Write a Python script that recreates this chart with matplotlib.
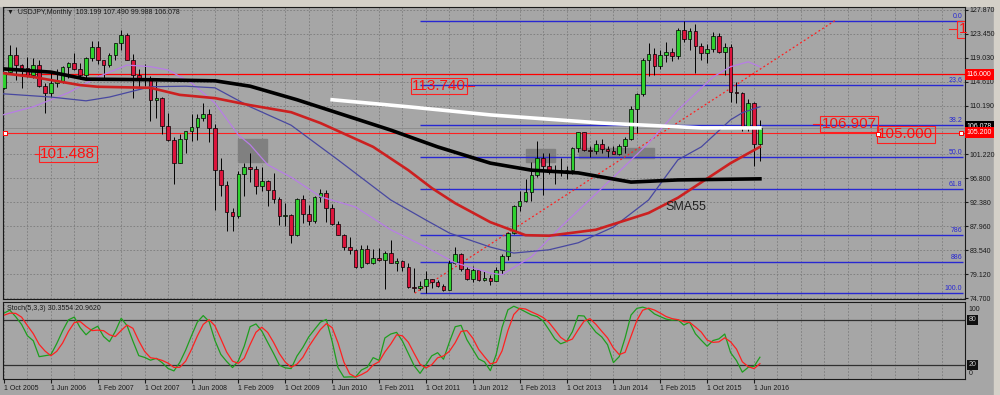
import matplotlib.pyplot as plt
import matplotlib.transforms as mtrans
import numpy as np
import pandas as pd
from matplotlib.patches import Rectangle

plt.rcParams['font.family'] = ['Liberation Sans', 'DejaVu Sans']

# USDJPY monthly bars, Feb 2005 .. Jul 2016 (first 8 bars only feed the stochastic)
opens = [
    103.6, 104.6, 107.2, 104.8, 108.6, 110.9, 112.5, 111.0, 113.4, 116.4, 119.6,                 # 2005
    117.8, 117.2, 115.8, 117.8, 113.8, 112.5, 114.4, 114.7, 117.4, 118.1, 117.0, 115.8,          # 2006
    119.0, 121.0, 118.6, 117.8, 119.5, 121.7, 123.2, 118.7, 115.8, 114.9, 115.4, 111.2,          # 2007
    111.7, 106.4, 103.9, 99.7, 104.0, 105.5, 106.2, 108.0, 108.7, 106.0, 98.4, 95.5,             # 2008
    90.6, 89.9, 97.6, 98.9, 98.5, 95.3, 96.3, 94.7, 93.0, 89.9, 90.1, 86.3,                      # 2009
    93.0, 90.3, 88.9, 93.4, 94.0, 91.3, 88.4, 86.4, 84.2, 83.5, 80.4, 83.7,                      # 2010
    81.1, 82.0, 81.8, 83.1, 81.2, 81.5, 80.5, 76.7, 76.6, 77.0, 78.2, 77.6,                      # 2011
    76.9, 76.2, 81.1, 82.9, 80.0, 78.3, 79.8, 78.1, 78.4, 77.9, 79.8, 82.5,                      # 2012
    86.7, 91.7, 92.6, 94.2, 97.4, 100.5, 99.1, 97.9, 98.2, 98.3, 98.4, 102.4,                    # 2013
    105.3, 102.0, 101.8, 103.2, 102.2, 101.8, 101.3, 102.8, 104.1, 109.6, 112.3, 118.6,          # 2014
    119.8, 117.5, 119.6, 120.1, 119.4, 124.1, 122.5, 123.9, 121.2, 119.9, 120.6, 123.1,          # 2015
    120.2, 121.0, 112.7, 112.6, 106.5, 110.7, 103.199,                                            # 2016
]
highs = [
    106.0, 107.5, 108.3, 108.7, 111.2, 113.7, 112.7, 113.5, 116.5, 121.4, 121.0,
    117.9, 119.2, 119.0, 118.7, 114.4, 116.2, 117.0, 117.5, 118.3, 119.9, 118.1, 119.1,
    122.2, 122.2, 118.7, 120.0, 121.8, 124.1, 123.7, 119.8, 117.0, 117.9, 115.6, 114.7,
    111.8, 108.8, 104.4, 105.0, 105.6, 108.6, 108.6, 110.7, 109.6, 106.8, 100.5, 96.3,
    91.3, 98.2, 99.7, 101.4, 99.1, 98.9, 96.5, 97.8, 93.3, 92.3, 90.3, 93.1,
    93.8, 91.8, 93.6, 94.8, 94.7, 92.0, 88.9, 86.6, 85.9, 83.7, 84.4, 84.5,
    83.7, 84.0, 83.3, 85.5, 82.0, 81.7, 81.1, 80.2, 77.9, 79.6, 78.3, 78.1,
    77.3, 81.7, 84.2, 83.0, 80.5, 80.6, 79.9, 79.6, 78.9, 80.4, 82.8, 86.8,
    91.8, 94.5, 96.7, 99.9, 103.7, 101.5, 101.5, 99.2, 100.6, 99.0, 102.6, 105.4,
    105.4, 102.8, 103.8, 104.1, 102.7, 102.8, 103.2, 104.5, 110.1, 112.5, 119.0, 121.8,
    120.8, 120.5, 122.0, 120.8, 124.5, 125.9, 124.6, 125.3, 121.8, 121.5, 123.8, 123.7,
    121.7, 121.5, 114.6, 112.7, 111.5, 110.8, 107.490,
]
lows = [
    103.5, 103.6, 104.2, 104.6, 106.6, 110.0, 108.8, 109.5, 113.2, 116.3, 114.9,
    113.4, 115.5, 115.3, 113.7, 108.9, 111.8, 113.6, 114.4, 115.4, 116.8, 115.1, 114.9,
    118.5, 117.9, 115.2, 117.3, 118.6, 120.5, 118.6, 111.6, 113.6, 113.9, 107.4, 107.9,
    104.9, 103.6, 95.8, 99.6, 101.4, 103.6, 103.8, 107.4, 103.5, 90.9, 93.6, 87.1,
    87.1, 89.5, 93.5, 96.2, 93.9, 94.5, 91.7, 92.3, 88.2, 88.0, 84.8, 86.1,
    88.6, 88.1, 88.5, 92.4, 88.8, 88.2, 86.3, 83.6, 82.9, 80.2, 80.2, 80.9,
    81.0, 81.5, 76.3, 81.1, 79.6, 79.7, 76.5, 75.9, 76.1, 75.6, 76.6, 76.8,
    76.0, 76.1, 80.9, 79.6, 78.0, 77.7, 77.9, 77.9, 77.1, 77.8, 79.1, 81.7,
    86.5, 90.8, 92.4, 92.6, 97.1, 93.8, 97.6, 95.8, 97.3, 96.6, 97.6, 101.6,
    101.8, 100.8, 101.2, 101.4, 100.8, 101.2, 101.1, 101.5, 103.8, 105.2, 111.9, 115.6,
    115.9, 116.9, 118.3, 118.5, 118.9, 122.0, 120.4, 116.2, 118.6, 118.1, 120.2, 119.9,
    115.9, 110.9, 110.7, 105.6, 105.5, 99.0, 99.988,
]
closes = [
    104.6, 107.2, 104.8, 108.6, 110.9, 112.5, 111.0, 113.4, 116.4, 119.6, 117.8,
    117.2, 115.8, 117.8, 113.8, 112.5, 114.4, 114.7, 117.4, 118.1, 117.0, 115.8, 119.0,
    121.0, 118.6, 117.8, 119.5, 121.7, 123.2, 118.7, 115.8, 114.9, 115.4, 111.2, 111.7,
    106.4, 103.9, 99.7, 104.0, 105.5, 106.2, 108.0, 108.7, 106.0, 98.4, 95.5, 90.6,
    89.9, 97.6, 98.9, 98.5, 95.3, 96.3, 94.7, 93.0, 89.9, 90.1, 86.3, 93.0,
    90.3, 88.9, 93.4, 94.0, 91.3, 88.4, 86.4, 84.2, 83.5, 80.4, 83.7, 81.1,
    82.0, 81.8, 83.1, 81.2, 81.5, 80.5, 76.7, 76.6, 77.0, 78.2, 77.6, 76.9,
    76.2, 81.1, 82.9, 80.0, 78.3, 79.8, 78.1, 78.4, 77.9, 79.8, 82.5, 86.7,
    91.7, 92.6, 94.2, 97.4, 100.5, 99.1, 97.9, 98.2, 98.3, 98.4, 102.4, 105.3,
    102.0, 101.8, 103.2, 102.2, 101.8, 101.3, 102.8, 104.1, 109.6, 112.3, 118.6, 119.8,
    117.5, 119.6, 120.1, 119.4, 124.1, 122.5, 123.9, 121.2, 119.9, 120.6, 123.1, 120.2,
    121.0, 112.7, 112.6, 106.5, 110.7, 103.2, 106.078,
]

# moving averages: (month index from Oct 2005, price)
black_m = [-0.2, 8, 14, 25, 36, 42, 50, 58, 66, 74, 83, 90, 98, 107, 115, 129]
black_v = [117.0, 116.4, 115.1, 115.0, 114.8, 113.8, 111.3, 108.5, 105.7, 102.6, 99.6, 98.3, 97.8, 96.1, 96.5, 96.7]
sma55_m = [-0.2, 5, 13, 16, 25, 30, 36, 42, 49, 54, 63, 69, 73, 77, 83, 89, 93, 101, 110, 115, 124, 129]
sma55_v = [116.2, 115.5, 114.0, 113.7, 113.5, 112.2, 111.6, 110.3, 109.0, 107.0, 102.6, 98.3, 95.0, 92.2,
           88.7, 86.3, 86.2, 87.3, 90.4, 93.2, 99.6, 102.6]
slate_m = [-0.2, 8, 14, 18, 25, 31, 36, 42, 49, 57, 66, 72, 76, 83, 87, 93, 98, 104, 110, 115, 119, 124, 126, 129]
slate_v = [112.4, 111.8, 111.1, 111.8, 113.7, 113.8, 113.5, 110.0, 106.6, 100.2, 92.8, 89.1, 86.7, 84.1,
           83.0, 83.6, 84.9, 87.8, 92.8, 100.2, 102.6, 107.6, 108.9, 110.0]
violet_m = [-0.2, 5, 11, 16, 21, 25, 28, 32, 36, 40, 42, 45, 49, 54, 60, 66, 72, 77, 83, 85, 90, 95,
            104, 110, 115, 121, 124, 127, 129]
violet_v = [108.5, 110.0, 112.6, 115.5, 117.7, 117.4, 116.8, 114.4, 110.7, 104.8, 103.0, 99.3, 97.0, 93.4,
            91.5, 87.3, 84.1, 81.2, 79.3, 79.0, 82.3, 87.8, 97.0, 103.3, 109.4, 115.5, 117.4, 118.3, 117.4]
white_m = [56, 69, 83, 102, 119, 129]
white_v = [111.3, 110.0, 108.5, 107.0, 106.1, 106.1]
trend_m = [70.1, 141.8]
trend_v = [75.6, 125.9]

fib_high, fib_low, fib_start = 125.86, 75.57, 71
fib_ratios = [0, 23.6, 38.2, 50, 61.8, 78.6, 88.6, 100]
fib_labels = ['0.0', '23.6', '38.2', '50.0', '61.8', '786', '886', '100.0']

# grey zones: (m0, m1, low, high)
zones = [(39.9, 44.9, 99.8, 104.1), (89.1, 94.0, 99.8, 102.2), (98.1, 110.9, 100.5, 102.4)]

price_ticks = [127.870, 123.450, 119.030, 114.610, 110.190, 101.220, 96.800, 92.380, 87.960, 83.540, 79.120, 74.700]
date_ticks = list(range(0, 129, 8))
date_labels = ['1 Oct 2005', '1 Jun 2006', '1 Feb 2007', '1 Oct 2007', '1 Jun 2008', '1 Feb 2009',
               '1 Oct 2009', '1 Jun 2010', '1 Feb 2011', '1 Oct 2011', '1 Jun 2012', '1 Feb 2013',
               '1 Oct 2013', '1 Jun 2014', '1 Feb 2015', '1 Oct 2015', '1 Jun 2016']

# price-box labels: (text, month, price)
notes = [('113.740', 74.2, 113.84), ('101.488', 10.9, 101.29), ('106.907', 144.2, 106.83), ('105.000', 153.9, 104.89)]

BG = '#A6A6A6'
GRID = '#7c7c7c'
BULL, BEAR = '#2FD12F', '#DC143C'

o, h, l, c = map(np.array, (opens, highs, lows, closes))
m = np.arange(len(c)) - 8

# stochastic 5,3,3
hh = pd.Series(h).rolling(5).max()
ll = pd.Series(l).rolling(5).min()
k = 100 * (pd.Series(c) - ll).rolling(3).sum() / (hh - ll).rolling(3).sum()
d = k.rolling(3).mean()

fig = plt.figure(figsize=(10, 3.95), dpi=100, facecolor=BG)
fig.patches.append(Rectangle((0, 1 - 6 / 395), 1, 6 / 395, transform=fig.transFigure, color='#D4D0C8', zorder=-1))
fig.patches.append(Rectangle((0.994, 0), 0.006, 1, transform=fig.transFigure, color='#D4D0C8', zorder=-1))

ax = fig.add_axes([0.003, 1 - 299 / 395, 0.962, 292 / 395])
ax2 = fig.add_axes([0.003, 1 - 379 / 395, 0.962, 77 / 395])
for a in (ax, ax2):
    a.set_facecolor(BG)
    a.set_xlim(-0.17, 164.0)
    for s in a.spines.values():
        s.set_color('#1a1a1a')
        s.set_linewidth(0.8)
    a.set_xticks(np.arange(0, 165, 4), minor=True)
    a.grid(True, which='both', axis='x', color=GRID, ls=(0, (2, 2)), lw=0.6)
    a.set_axisbelow(True)

ax.set_ylim(74.52, 128.42)
ax.yaxis.tick_right()
ax.set_yticks(price_ticks)
ax.set_yticklabels([f'{v:.3f}' for v in price_ticks])
ax.tick_params(axis='y', labelsize=5, length=2, pad=1.5, colors='#1a1a1a')
ax.set_xticks([])
ax.tick_params(axis='x', which='both', length=0, labelbottom=False)
ax.grid(True, axis='y', color=GRID, ls=(0, (2, 2)), lw=0.6)

# zones and horizontal levels
for m0, m1, lo, hi in zones:
    ax.add_patch(Rectangle((m0, lo), m1 - m0, hi - lo, color='#808080', zorder=1))
for r, lab in zip(fib_ratios, fib_labels):
    lvl = fib_high - r / 100 * (fib_high - fib_low)
    ax.hlines(lvl, fib_start, 163.6, color='#2828D2', lw=1.0, zorder=2)
    ax.text(163.5, lvl + 0.25, lab, ha='right', va='bottom', color='#2828D2', fontsize=5, zorder=6)
ax.axhline(116.0, color='#FF0000', lw=0.9, zorder=2)
ax.axhline(106.078, color='#8a8a8a', lw=0.6, zorder=2)
ax.axhline(105.2, color='#FF2020', lw=0.8, zorder=2)
ax.plot([0.15, 163.4], [105.2, 105.2], 's', ms=2.6, mfc='white', mec='#FF0000', mew=0.7, zorder=6)
ax.plot(trend_m, trend_v, color='#FF2020', lw=0.9, ls=(0, (1.5, 2)), zorder=2)

# candles
up = c >= o
ax.vlines(m, l, h, color='black', lw=0.7, zorder=3)
body = np.maximum(np.abs(c - o), 0.12)
ax.bar(m, body, bottom=np.minimum(o, c), width=0.62, color=np.where(up, BULL, BEAR),
       edgecolor='black', lw=0.5, zorder=3)

# moving averages
ax.plot(violet_m, violet_v, color='#B87DE6', lw=0.9, zorder=4)
ax.plot(slate_m, slate_v, color='#4848A0', lw=0.9, zorder=4)
ax.plot(sma55_m, sma55_v, color='#CC2020', lw=1.9, zorder=4)
ax.plot(black_m, black_v, color='black', lw=2.6, zorder=4)
ax.plot(white_m, white_v, color='white', lw=2.6, zorder=4)
ax.text(112.8, 91.5, 'SMA55', fontsize=9, color='#202020', va='center', ha='left', zorder=6)

# boxed price labels
for txt, mm, pv in notes:
    ax.text(mm, pv, txt, ha='center', va='center', color='#FF1010', fontsize=11, zorder=7,
            bbox=dict(boxstyle='square,pad=0.08', fc='none', ec='#FF2020', lw=0.8))
ax.plot([78.8, 80.2], [113.84, 113.84], color='#FF2020', lw=0.8, zorder=6)
ax.plot([5.3, 6.3], [101.29, 101.29], color='#FF2020', lw=0.8, zorder=6)
ax.plot([138.0, 139.6], [106.83, 106.83], color='#FF2020', lw=0.8, zorder=6)
ax.plot([149.1], [104.98], 's', ms=2.2, mfc='white', mec='#FF0000', mew=0.7, zorder=8)
# label cut by the price scale: only its first digit and the box's left part show
ax.plot([161.3, 162.6], [124.27, 124.27], color='#FF2020', lw=0.8, zorder=6)
ax.add_patch(Rectangle((162.6, 122.75), 5, 3.05, fc='none', ec='#FF2020', lw=0.8, zorder=7))
ax.text(163.0, 124.27, '1', ha='left', va='center', color='#FF1010', fontsize=11, zorder=7)

# price axis tags
tr = mtrans.blended_transform_factory(ax.transAxes, ax.transData)
ax.text(1.002, 116.0, '116.000', transform=tr, fontsize=5, color='white', va='center', ha='left', zorder=9,
        bbox=dict(boxstyle='square,pad=0.3', fc='#FF0000', ec='none'), clip_on=False)
ax.text(1.002, 106.3, '106.078', transform=tr, fontsize=5, color='white', va='center', ha='left', zorder=9,
        bbox=dict(boxstyle='square,pad=0.3', fc='#000000', ec='none'), clip_on=False)
ax.text(1.002, 105.2, '105.200', transform=tr, fontsize=5, color='white', va='center', ha='left', zorder=10,
        bbox=dict(boxstyle='square,pad=0.3', fc='#FF0000', ec='none'), clip_on=False)

# stochastic panel
ax2.set_ylim(1.33, 104)
ax2.set_yticks([])
ax2.axhline(80, color='#303030', lw=0.9)
ax2.axhline(20, color='#303030', lw=0.9)
ax2.plot(m, k, color='#1E9E1E', lw=0.9)
ax2.plot(m, d, color='#FF2020', lw=0.9)
ax2.set_xticks(date_ticks)
ax2.set_xticklabels(date_labels)
for lbl in ax2.get_xticklabels():
    lbl.set_ha('left')
ax2.tick_params(axis='x', which='major', labelsize=5, length=3, pad=1, colors='#1a1a1a')
ax2.tick_params(axis='x', which='minor', length=0)
tr2 = mtrans.blended_transform_factory(ax2.transAxes, ax2.transData)
ax2.text(1.004, 94.5, '100', transform=tr2, fontsize=5, va='center', ha='left', color='#1a1a1a')
ax2.text(1.004, 8.0, '0', transform=tr2, fontsize=5, va='center', ha='left', color='#1a1a1a')
for lv in (80, 20):
    ax2.text(1.004, lv, str(lv), transform=tr2, fontsize=5, va='center', ha='left', color='#C8C8C8',
             bbox=dict(boxstyle='square,pad=0.2', fc='#101010', ec='none'))
ax2.text(0.004, 0.92, 'Stoch(5,3,3) 30.3554 20.9620', transform=ax2.transAxes,
         fontsize=5, va='center', ha='left', color='#1a1a1a')

fig.text(0.007, 1 - 13 / 395, '\u25bc  USDJPY,Monthly  103.199 107.490 99.988 106.078', fontsize=5,
         va='center', ha='left', color='#1a1a1a')

fig.savefig('out.png', dpi=100, facecolor=BG)
